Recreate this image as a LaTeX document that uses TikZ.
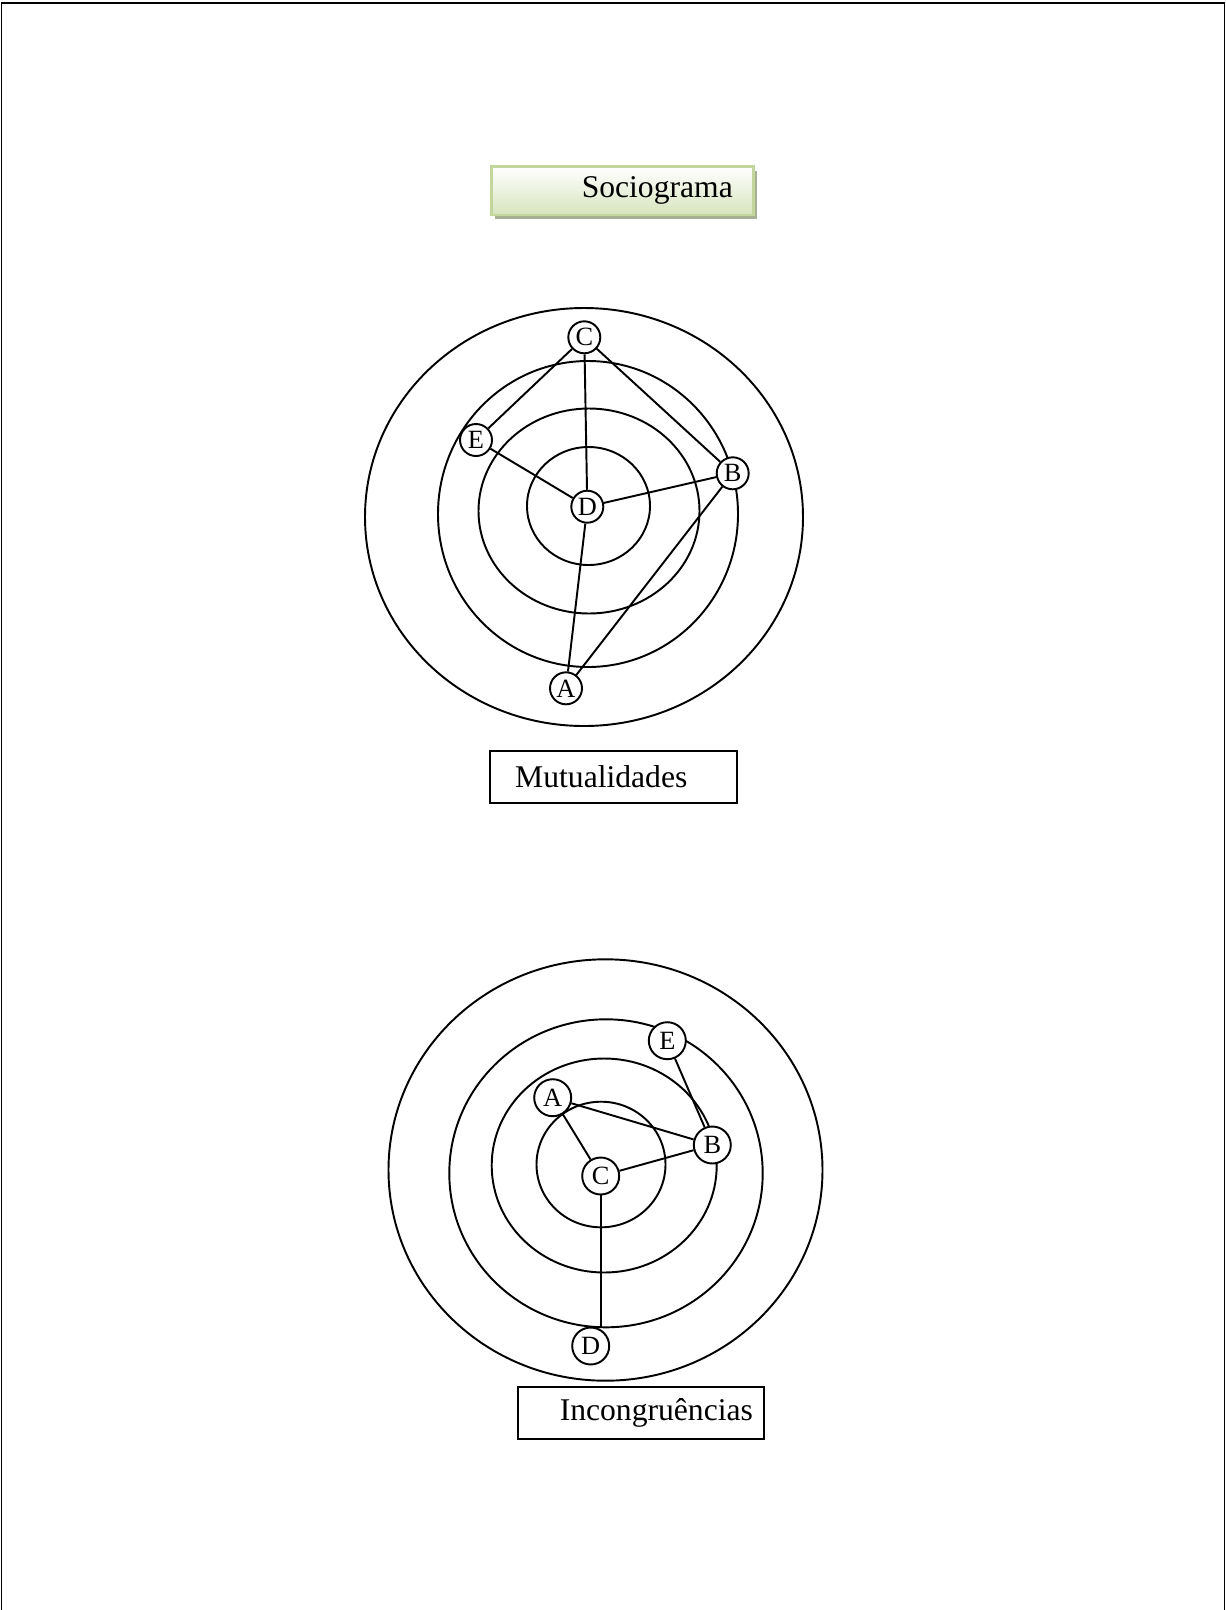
\documentclass[tikz,border=0pt]{standalone}
\usepackage{fontspec}
\setmainfont{Liberation Serif}
\usepackage{tikz}
\usetikzlibrary{positioning,shadows}
\definecolor{titleborder}{HTML}{C3D69B}
\definecolor{titlefill}{HTML}{D7E4BD}
\definecolor{titleshadow}{HTML}{A8B093}
\tikzset{
  ring/.style={draw=black, line width=1.1pt},
  person/.style={
    circle, draw=black, line width=1.1pt, fill=white,
    inner sep=0pt, minimum size=#1,
    font=\fontsize{15}{15}\selectfont,
  },
  tie/.style={line width=1.1pt, color=black},
  labelbox/.style={
    draw=black, line width=1.1pt, inner xsep=0pt,
    text width=#1, align=left, minimum height=1.05cm,
    font=\fontsize{18}{22}\selectfont,
  },
  titlebox/.style={
    draw=titleborder, line width=1.6pt,
    top color=white, bottom color=titlefill,
    drop shadow={shadow xshift=0.07cm, shadow yshift=-0.08cm, fill=titleshadow, opacity=1},
    inner xsep=0pt, text width=5.23cm, align=left, minimum height=0.97cm,
    font=\fontsize{18}{22}\selectfont,
  },
}
\begin{document}
\begin{tikzpicture}[x=0.02cm, y=-0.02cm]

  \useasboundingbox (0,0) rectangle (1226,1610);
  \draw[line width=1.1pt] (1.5,1610) -- (1.5,3) -- (1224.5,3) -- (1224.5,1610);

  \node[titlebox] (title) at (622.5,190.8) {\hspace*{1.8cm}Sociograma};

  \draw[ring] (584,517) ellipse [x radius=219, y radius=209];
  \draw[ring] (588,514) ellipse [x radius=150, y radius=153];
  \draw[ring] (589,511) ellipse [x radius=110.5, y radius=102.5];
  \draw[ring] (588.5,506) ellipse [x radius=61.5, y radius=59];

  \node[person=0.64cm] (mC) at (584.3,337.3) {C};
  \node[person=0.64cm] (mE) at (476,440) {E};
  \node[person=0.64cm] (mB) at (732.7,473.3) {B};
  \node[person=0.64cm] (mD) at (587.3,506.7) {D};
  \node[person=0.64cm] (mA) at (566,688.3) {A};

  \draw[tie] (mC) -- (mE);
  \draw[tie] (mC) -- (mD);
  \draw[tie] (mC) -- (mB);
  \draw[tie] (mE) -- (mD);
  \draw[tie] (mD) -- (mB);
  \draw[tie] (mD) -- (mA);
  \draw[tie] (mB) -- (mA);

  \node[labelbox=4.94cm] (mutual) at (613.7,777) {\hspace*{0.5cm}Mutualidades};

  \draw[ring] (605.5,1170) ellipse [x radius=217, y radius=210.7];
  \draw[ring] (606,1173.3) ellipse [x radius=156.7, y radius=154];
  \draw[ring] (604.2,1165.5) ellipse [x radius=112.5, y radius=107];
  \draw[ring] (601,1164.5) ellipse [x radius=64.5, y radius=62.8];

  \node[person=0.74cm] (iE) at (667.3,1040.7) {E};
  \node[person=0.74cm] (iA) at (552.7,1097.7) {A};
  \node[person=0.74cm] (iB) at (712.3,1145) {B};
  \node[person=0.74cm] (iC) at (600.7,1176) {C};
  \node[person=0.74cm] (iD) at (590.7,1346) {D};

  \draw[tie] (iE) -- (iB);
  \draw[tie] (iA) -- (iC);
  \draw[tie] (iA) -- (iB);
  \draw[tie] (iC) -- (iB);
  \draw[tie] (iC.south) -- (iC.south |- iD.north);

  \node[labelbox=4.93cm] (incong) at (641,1412.9) {\hspace*{0.84cm}Incongruências};

\end{tikzpicture}
\end{document}
